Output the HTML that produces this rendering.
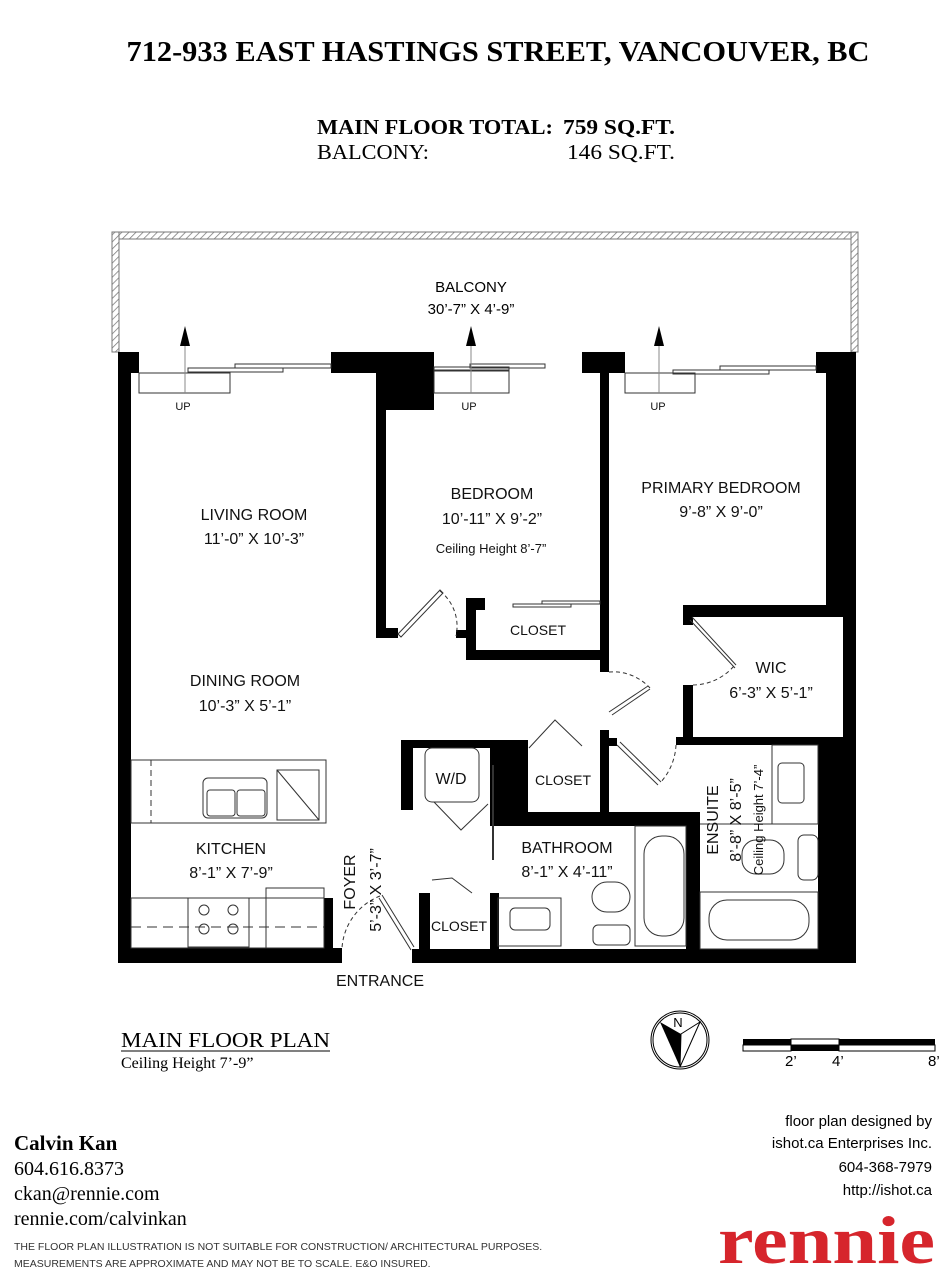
<!DOCTYPE html>
<html><head><meta charset="utf-8"><style>
body{margin:0;background:#fff;}
svg{display:block}
.s{font-family:"Liberation Sans",sans-serif;}
.f{font-family:"Liberation Serif",serif;}
</style></head><body>
<svg width="952" height="1280" viewBox="0 0 952 1280" xmlns="http://www.w3.org/2000/svg">
<defs>
<pattern id="h" width="5" height="5" patternUnits="userSpaceOnUse" patternTransform="rotate(45)">
<rect width="5" height="5" fill="#fff"/><line x1="0" y1="0" x2="0" y2="5" stroke="#777" stroke-width="1.5"/></pattern>
</defs>
<!-- header -->
<text x="498" y="61" class="f" font-weight="bold" font-size="28" text-anchor="middle" textLength="743" lengthAdjust="spacingAndGlyphs">712-933 EAST HASTINGS STREET, VANCOUVER, BC</text>
<text x="317" y="134" class="f" font-weight="bold" font-size="21" textLength="236" lengthAdjust="spacingAndGlyphs">MAIN FLOOR TOTAL:</text>
<text x="563" y="134" class="f" font-weight="bold" font-size="21" textLength="112" lengthAdjust="spacingAndGlyphs">759 SQ.FT.</text>
<text x="317" y="159" class="f" font-size="21" textLength="112" lengthAdjust="spacingAndGlyphs">BALCONY:</text>
<text x="567" y="159" class="f" font-size="21" textLength="108" lengthAdjust="spacingAndGlyphs">146 SQ.FT.</text>

<!-- balcony -->
<path d="M112 352 V232 H858 V352" fill="none" stroke="#777" stroke-width="1"/>
<rect x="112" y="232" width="746" height="7" fill="url(#h)" stroke="#777" stroke-width="1"/>
<rect x="112" y="232" width="7" height="120" fill="url(#h)" stroke="#777" stroke-width="1"/>
<rect x="851" y="232" width="7" height="120" fill="url(#h)" stroke="#777" stroke-width="1"/>
<text x="471" y="292" class="s" font-size="15" text-anchor="middle">BALCONY</text>
<text x="471" y="314" class="s" font-size="15" text-anchor="middle">30’-7” X 4’-9”</text>

<g fill="#000">
<rect x="118" y="352" width="21" height="21"/>
<rect x="118" y="352" width="13" height="610"/>
<rect x="331" y="352" width="103" height="21"/>
<rect x="376" y="352" width="58" height="58"/>
<rect x="376" y="352" width="10" height="286"/>
<rect x="376" y="628" width="22" height="10"/>
<rect x="582" y="352" width="43" height="21"/>
<rect x="600" y="352" width="9" height="320"/>
<rect x="816" y="352" width="40" height="21"/>
<rect x="826" y="352" width="30" height="253"/>
<rect x="843" y="352" width="13" height="611"/>
<rect x="818" y="745" width="38" height="218"/>
<rect x="683" y="605" width="173" height="12"/>
<rect x="683" y="605" width="10" height="20"/>
<rect x="683" y="685" width="10" height="60"/>
<rect x="676" y="737" width="180" height="8"/>
<rect x="466" y="598" width="10" height="62"/>
<rect x="466" y="598" width="19" height="12"/>
<rect x="456" y="630" width="20" height="8"/>
<rect x="466" y="650" width="143" height="10"/>
<rect x="600" y="730" width="9" height="90"/>
<rect x="600" y="738" width="17" height="8"/>
<rect x="401" y="740" width="12" height="70"/>
<rect x="401" y="740" width="127" height="8"/>
<rect x="490" y="740" width="38" height="77"/>
<rect x="490" y="812" width="203" height="14"/>
<rect x="686" y="812" width="14" height="151"/>
<rect x="490" y="893" width="9" height="70"/>
<rect x="419" y="893" width="11" height="70"/>
<rect x="118" y="948" width="224" height="15"/>
<rect x="412" y="949" width="444" height="14"/>
<rect x="324" y="898" width="9" height="52"/>
</g>

<g fill="none" stroke="#333" stroke-width="1">
<rect x="139" y="373" width="91" height="20"/>
<rect x="188" y="368" width="95" height="4"/><rect x="235" y="364" width="96" height="4"/>
<rect x="434" y="370" width="75" height="23"/>
<rect x="434" y="367" width="75" height="4"/><rect x="470" y="364" width="75" height="4"/>
<rect x="625" y="373" width="70" height="20"/>
<rect x="673" y="370" width="96" height="4"/><rect x="720" y="366" width="96" height="4"/>
<line x1="185" y1="340" x2="185" y2="393" stroke="#888"/>
<line x1="471" y1="340" x2="471" y2="393" stroke="#888"/>
<line x1="659" y1="340" x2="659" y2="393" stroke="#888"/>
<rect x="513" y="604" width="58" height="3"/><rect x="542" y="601" width="58" height="3"/>
<path d="M398 634 L440 590 L443 593 L401 637 Z"/>
<path d="M440 591 A45 45 0 0 1 456 636" stroke-dasharray="4 3"/>
<path d="M609 712 L648 686 M612 715 L650 689" />
<path d="M609 672 A50 50 0 0 1 650 688" stroke-dasharray="4 3"/>
<path d="M690 620 L735 668 M692 617 L736 665"/>
<path d="M693 685 A55 55 0 0 0 734 666" stroke-dasharray="4 3"/>
<path d="M617 745 L658 785 M620 742 L661 782"/>
<path d="M676 745 A60 60 0 0 1 660 783" stroke-dasharray="4 3"/>
<path d="M529 748 L555 720 L582 746"/>
<path d="M432 880 L452 878 L472 893"/>
<path d="M382 895 L414 947 M379 898 L411 950"/>
<path d="M380 896 A60 60 0 0 0 342 948" stroke-dasharray="4 3"/>
<rect x="425" y="748" width="54" height="54" rx="7"/>
<path d="M434 802 L461 830 L488 804"/>
<line x1="493" y1="765" x2="493" y2="860" stroke-width="2"/>
<rect x="498" y="898" width="63" height="48"/>
<rect x="510" y="908" width="40" height="22" rx="5"/>
<rect x="592" y="882" width="38" height="30" rx="15"/>
<rect x="593" y="925" width="37" height="20" rx="5"/>
<rect x="635" y="826" width="51" height="120"/>
<rect x="644" y="836" width="40" height="100" rx="18"/>
<rect x="772" y="745" width="46" height="79"/>
<rect x="778" y="763" width="26" height="40" rx="4"/>
<rect x="700" y="892" width="118" height="57"/>
<rect x="709" y="900" width="100" height="40" rx="18"/>
<rect x="742" y="840" width="42" height="34" rx="14"/>
<rect x="798" y="835" width="20" height="45" rx="6"/>
<line x1="700" y1="824" x2="818" y2="824"/>
<rect x="131" y="760" width="195" height="63"/>
<line x1="151" y1="760" x2="151" y2="823" stroke-dasharray="6 4"/>
<rect x="203" y="778" width="64" height="40" rx="5"/>
<rect x="207" y="790" width="28" height="26" rx="3"/><rect x="237" y="790" width="28" height="26" rx="3"/>
<rect x="277" y="770" width="42" height="50"/>
<line x1="277" y1="770" x2="319" y2="820"/>
<rect x="131" y="898" width="193" height="50"/>
<line x1="131" y1="927" x2="324" y2="927" stroke-dasharray="10 6"/>
<rect x="188" y="898" width="61" height="49"/>
<circle cx="204" cy="910" r="5"/><circle cx="233" cy="910" r="5"/>
<circle cx="204" cy="929" r="5"/><circle cx="233" cy="929" r="5"/>
<rect x="266" y="888" width="58" height="60"/>
</g>
<g fill="#000">
<polygon points="185,326 180,346 190,346"/>
<polygon points="471,326 466,346 476,346"/>
<polygon points="659,326 654,346 664,346"/>
</g>

<g class="s" font-size="16" text-anchor="middle" fill="#111">
<text x="183" y="410" font-size="11">UP</text>
<text x="469" y="410" font-size="11">UP</text>
<text x="658" y="410" font-size="11">UP</text>
<text x="254" y="520">LIVING ROOM</text>
<text x="254" y="544">11’-0” X 10’-3”</text>
<text x="492" y="499">BEDROOM</text>
<text x="492" y="524">10’-11” X 9’-2”</text>
<text x="491" y="553" font-size="13">Ceiling Height 8’-7”</text>
<text x="721" y="493">PRIMARY BEDROOM</text>
<text x="721" y="517">9’-8” X 9’-0”</text>
<text x="538" y="635" font-size="14">CLOSET</text>
<text x="771" y="673">WIC</text>
<text x="771" y="698">6’-3” X 5’-1”</text>
<text x="245" y="686">DINING ROOM</text>
<text x="245" y="711">10’-3” X 5’-1”</text>
<text x="451" y="784">W/D</text>
<text x="563" y="785" font-size="14">CLOSET</text>
<text x="567" y="853">BATHROOM</text>
<text x="567" y="877">8’-1” X 4’-11”</text>
<text x="459" y="931" font-size="14">CLOSET</text>
<text x="231" y="854">KITCHEN</text>
<text x="231" y="878">8’-1” X 7’-9”</text>
<text x="380" y="986">ENTRANCE</text>
<text transform="translate(355,882) rotate(-90)">FOYER</text>
<text transform="translate(381,890) rotate(-90)">5’-3” X 3’-7”</text>
<text transform="translate(718,820) rotate(-90)">ENSUITE</text>
<text transform="translate(741,820) rotate(-90)">8’-8” X 8’-5”</text>
<text transform="translate(763,820) rotate(-90)" font-size="13">Ceiling Height 7’-4”</text>
</g>

<text x="121" y="1047" class="f" font-size="21" textLength="209" lengthAdjust="spacingAndGlyphs">MAIN FLOOR PLAN</text>
<line x1="121" y1="1051" x2="330" y2="1051" stroke="#000" stroke-width="1"/>
<text x="121" y="1068" class="f" font-size="16">Ceiling Height 7’-9”</text>

<circle cx="680" cy="1040" r="29" fill="none" stroke="#000" stroke-width="1"/>
<circle cx="680" cy="1040" r="27" fill="none" stroke="#000" stroke-width="1"/>
<polygon points="660,1022 681,1034 680,1067" fill="#000"/>
<polygon points="700,1022 681,1034 680,1067" fill="none" stroke="#000"/>
<text x="678" y="1027" class="s" font-size="13" text-anchor="middle">N</text>
<rect x="743" y="1039" width="48" height="6" fill="#000"/>
<rect x="791" y="1039" width="48" height="6" fill="#fff" stroke="#000" stroke-width="1"/>
<rect x="839" y="1039" width="96" height="6" fill="#000"/>
<rect x="743" y="1045" width="48" height="6" fill="#fff" stroke="#000" stroke-width="1"/>
<rect x="791" y="1045" width="48" height="6" fill="#000"/>
<rect x="839" y="1045" width="96" height="6" fill="#fff" stroke="#000" stroke-width="1"/>
<g class="s" font-size="15"><text x="785" y="1066">2’</text><text x="832" y="1066">4’</text><text x="928" y="1066">8’</text></g>

<text x="14" y="1150" class="f" font-weight="bold" font-size="21">Calvin Kan</text>
<text x="14" y="1175" class="f" font-size="20">604.616.8373</text>
<text x="14" y="1200" class="f" font-size="20">ckan@rennie.com</text>
<text x="14" y="1225" class="f" font-size="20">rennie.com/calvinkan</text>
<text x="14" y="1250" class="s" font-size="10.5" fill="#333">THE FLOOR PLAN ILLUSTRATION IS NOT SUITABLE FOR CONSTRUCTION/ ARCHITECTURAL PURPOSES.</text>
<text x="14" y="1267" class="s" font-size="10.5" fill="#333">MEASUREMENTS ARE APPROXIMATE AND MAY NOT BE TO SCALE. E&amp;O INSURED.</text>
<g class="s" font-size="15" text-anchor="end">
<text x="932" y="1126">floor plan designed by</text>
<text x="932" y="1148">ishot.ca Enterprises Inc.</text>
<text x="932" y="1172">604-368-7979</text>
<text x="932" y="1195">http://ishot.ca</text>
</g>
<text x="718" y="1263" class="f" font-weight="bold" font-size="68" fill="#d6252c" textLength="217" lengthAdjust="spacingAndGlyphs">rennie</text>
</svg>
</body></html>
